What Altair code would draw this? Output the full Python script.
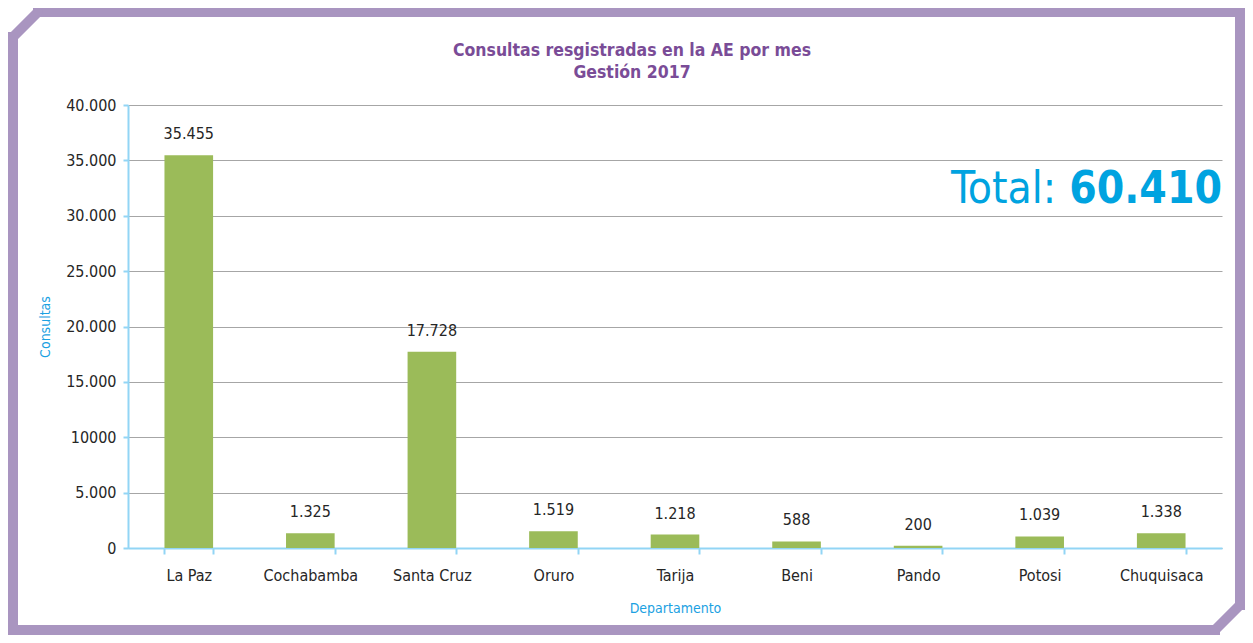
import altair as alt
import pandas as pd

departamentos = ["La Paz", "Cochabamba", "Santa Cruz", "Oruro", "Tarija",
                 "Beni", "Pando", "Potosi", "Chuquisaca"]
consultas = [35455, 1325, 17728, 1519, 1218, 588, 200, 1039, 1338]
y_ticks = [0, 5000, 10000, 15000, 20000, 25000, 30000, 35000, 40000]
y_tick_labels = ["0", "5.000", "10000", "15.000", "20.000", "25.000",
                 "30.000", "35.000", "40.000"]
titulo = ["Consultas resgistradas en la AE por mes", "Gestión 2017"]


def fmt(v):
    return f"{v:,}".replace(",", ".")


df = pd.DataFrame({
    "Departamento": departamentos,
    "Consultas": consultas,
    "etiqueta": [fmt(v) for v in consultas],
})
total = sum(consultas)
tot_df = pd.DataFrame({"palabra": ["Total:"], "numero": [fmt(total)]})
dummy = pd.DataFrame({"a": [0]})

FONT = "DejaVu Sans Condensed, Liberation Sans Narrow, sans-serif"
GREEN = "#9bbb59"
CYAN = "#00a3e0"
AXIS_BLUE = "#92d5f5"
PURPLE = "#7a4c97"
FRAME = "#a995c0"
W, H = 1094, 443

label_expr = ""
for v, t in zip(y_ticks, y_tick_labels):
    label_expr += f"datum.value == {v} ? '{t}' : "
label_expr += "''"

x_enc = alt.X("Departamento:N", sort=departamentos,
              scale=alt.Scale(paddingInner=0.6, paddingOuter=0.3),
              axis=alt.Axis(title="Departamento", labelAngle=0, tickBand="extent",
                            grid=False, domainColor=AXIS_BLUE, domainWidth=2,
                            tickColor=AXIS_BLUE, tickWidth=2, tickSize=6,
                            labelPadding=13, titlePadding=18))
y_enc = alt.Y("Consultas:Q", scale=alt.Scale(domain=[0, 40000], nice=False),
              axis=alt.Axis(title="Consultas", values=y_ticks, labelExpr=label_expr,
                            grid=True, gridColor="#a6a6a6", gridWidth=1,
                            domainColor=AXIS_BLUE, domainWidth=2,
                            tickColor=AXIS_BLUE, tickWidth=2, tickSize=5,
                            labelPadding=7, titlePadding=13))

base = alt.Chart(df)
bars = base.mark_bar(color=GREEN).encode(x=x_enc, y=y_enc)
labels = base.mark_text(baseline="bottom", dy=-13, fontSize=16, font=FONT,
                        color="#262626").encode(
    x=alt.X("Departamento:N", sort=departamentos), y="Consultas:Q", text="etiqueta:N")

t_num = alt.Chart(tot_df).mark_text(align="right", baseline="alphabetic", fontSize=44,
                                    fontWeight="bold", font=FONT, color=CYAN).encode(
    x=alt.value(W), y=alt.value(98), text="numero:N")
t_word = alt.Chart(tot_df).mark_text(align="right", baseline="alphabetic", fontSize=44,
                                     font=FONT, color=CYAN).encode(
    x=alt.value(W - 166), y=alt.value(98), text="palabra:N")

title_layers = []
for linea, ybase in zip(titulo, [-49, -27]):
    title_layers.append(
        alt.Chart(pd.DataFrame({"t": [linea]})).mark_text(
            align="center", baseline="alphabetic", fontSize=17.5, fontWeight="bold",
            font=FONT, color=PURPLE).encode(
            x=alt.value(504), y=alt.value(ybase), text="t:N"))


def seg(x1, y1, x2, y2, cap="square"):
    return alt.Chart(dummy).mark_rule(color=FRAME, strokeWidth=10, strokeCap=cap).encode(
        x=alt.value(x1), x2=alt.value(x2), y=alt.value(y1), y2=alt.value(y2))


frame = [
    seg(-90, -93, 1112, -93),     # top
    seg(-115, -68, -115, 525),    # left
    seg(-115, 525, 1087, 525),    # bottom
    seg(1112, -93, 1112, 500),    # right
    seg(-115, -68, -90, -93, "round"),
    seg(1112, 500, 1087, 525, "round"),
]

chart = alt.layer(bars, labels, t_word, t_num, *title_layers, *frame).properties(
    width=W, height=H,
    autosize=alt.AutoSizeParams(type="none"),
    padding={"left": 120, "top": 97, "right": 23, "bottom": 87},
).configure_view(stroke=None).configure_axis(
    labelFont=FONT, labelFontSize=16, labelColor="#262626",
    titleFont=FONT, titleFontSize=14, titleFontWeight="normal", titleColor="#1ba1e2",
)

chart.save("out.html", embed_options={"renderer": "svg", "actions": False})
